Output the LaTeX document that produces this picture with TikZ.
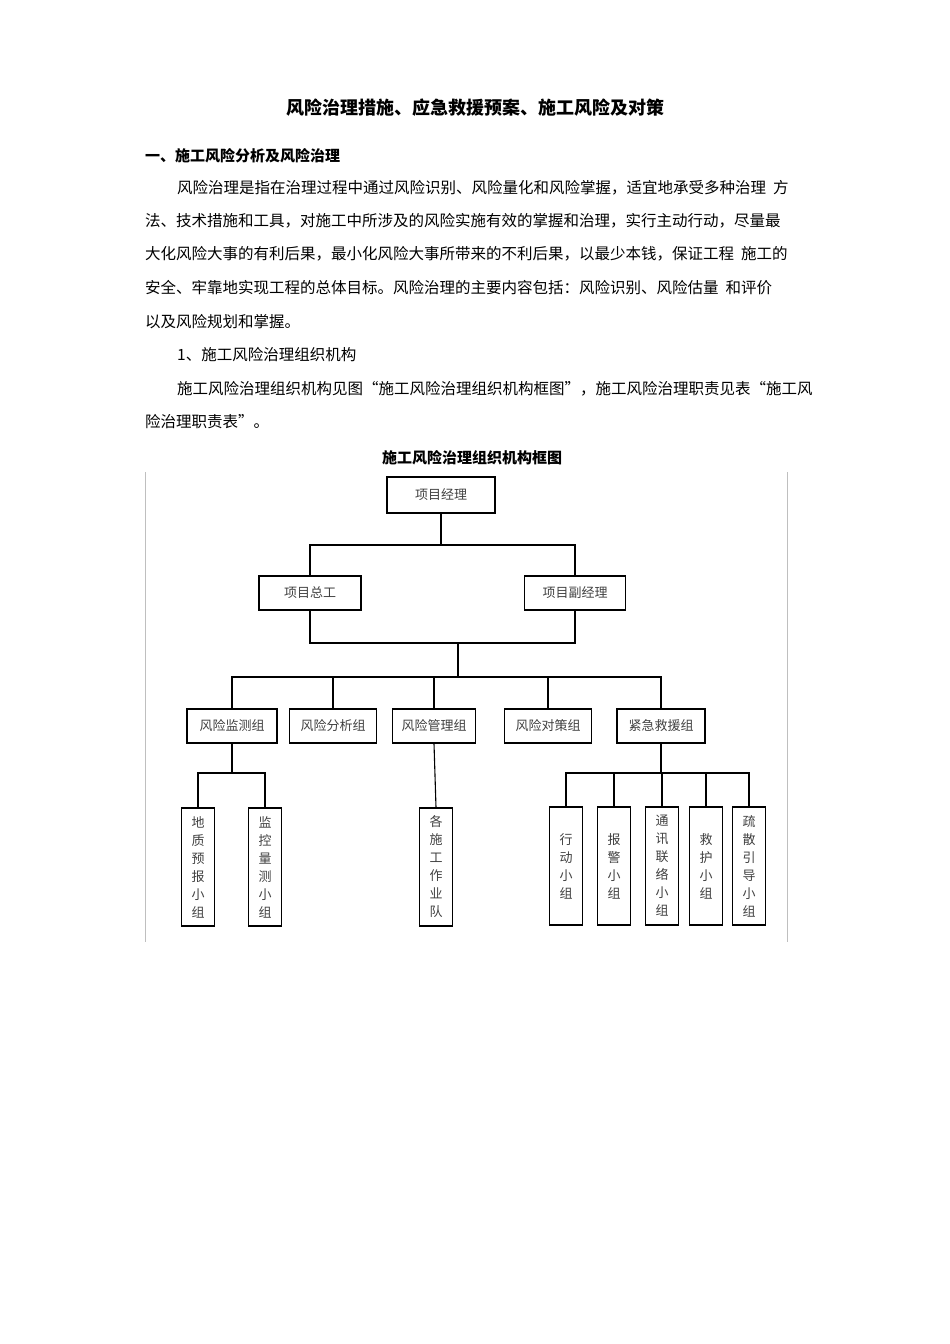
\documentclass[tikz,border=0pt]{standalone}
\usepackage{fontspec}
\setmainfont{Noto Sans CJK SC}
\usetikzlibrary{positioning}
\tikzset{
  txt/.style={anchor=west,inner sep=0pt,font=\fontsize{15.5}{18}\selectfont},
  hbox/.style={draw,line width=1.2pt,minimum height=34pt,inner sep=2pt,font=\fontsize{13}{15}\selectfont,text=black!75},
  vbox/.style={draw,line width=1.2pt,minimum width=33pt,minimum height=118pt,inner sep=2pt,align=center,font=\fontsize{13}{18}\selectfont,text=black!75},
  link/.style={line width=1.1pt}
}
\begin{document}
\begin{tikzpicture}[x=1pt,y=-1pt]
\useasboundingbox (0,0) rectangle (950,1344);
% text of the page
\node[inner sep=0pt,font=\fontsize{18}{20}\selectfont\bfseries] (title) at (475,108) {风险治理措施、应急救援预案、施工风险及对策};
\node[txt,font=\fontsize{15}{18}\selectfont\bfseries] (sec) at (145,156) {一、施工风险分析及风险治理};
\node[txt] (p1) at (177,188) {风险治理是指在治理过程中通过风险识别、风险量化和风险掌握，适宜地承受多种治理\ \ 方};
\node[txt] (p2) at (145,221) {法、技术措施和工具，对施工中所涉及的风险实施有效的掌握和治理，实行主动行动，尽量最};
\node[txt] (p3) at (145,254) {大化风险大事的有利后果，最小化风险大事所带来的不利后果，以最少本钱，保证工程\ \ 施工的};
\node[txt] (p4) at (145,288) {安全、牢靠地实现工程的总体目标。风险治理的主要内容包括：风险识别、风险估量\ \ 和评价};
\node[txt] (p5) at (145,322) {以及风险规划和掌握。};
\node[txt] (s1) at (177,355) {1、施工风险治理组织机构};
\node[txt] (p6) at (177,389) {施工风险治理组织机构见图“施工风险治理组织机构框图”，施工风险治理职责见表“施工风};
\node[txt] (p7) at (145,422) {险治理职责表”。};
\node[inner sep=0pt,font=\fontsize{15}{18}\selectfont\bfseries] (ctitle) at (472,458) {施工风险治理组织机构框图};
\draw[black!25] (145,472) -- (145,942) (787,472) -- (787,942);
% chart
\node[hbox,minimum width=108pt,minimum height=36pt] (pm) at (441,495) {项目经理};
\node[hbox,minimum width=102pt] (zg) at (310,593) {项目总工};
\node[hbox,minimum width=101pt] (fj) at (575,593) {项目副经理};
\node[hbox,minimum width=90pt] (jc) at (232,726) {风险监测组};
\node[hbox,minimum width=87pt] (fx) at (333,726) {风险分析组};
\node[hbox,minimum width=83pt] (gl) at (434,726) {风险管理组};
\node[hbox,minimum width=87pt] (dc) at (548,726) {风险对策组};
\node[hbox,minimum width=88pt] (jy) at (661,726) {紧急救援组};
\node[vbox] (dz) at (198,867) {地\\质\\预\\报\\小\\组};
\node[vbox] (jk) at (265,867) {监\\控\\量\\测\\小\\组};
\node[vbox] (zy) at (436,867) {各\\施\\工\\作\\业\\队};
\node[vbox] (xd) at (566,866) {行\\动\\小\\组};
\node[vbox] (bj) at (614,866) {报\\警\\小\\组};
\node[vbox] (tx) at (662,866) {通\\讯\\联\\络\\小\\组};
\node[vbox] (jh) at (706,866) {救\\护\\小\\组};
\node[vbox] (ss) at (749,866) {疏\\散\\引\\导\\小\\组};
\coordinate (b1) at (441,545);
\coordinate (b2) at (441,643);
\coordinate (b3) at (458,677);
\coordinate (b4) at (232,773);
\coordinate (b5) at (661,773);
\draw[link] (pm.south) -- (b1) (zg.north) |- (b1) -| (fj.north);
\draw[link] (zg.south) |- (b2) -| (fj.south);
\draw[link] (b3 |- b2) -- (b3);
\foreach \n in {jc,fx,gl,dc,jy} \draw[link] (b3) -| (\n.north);
\draw[link] (jc.south) -- (b4);
\foreach \n in {dz,jk} \draw[link] (b4) -| (\n.north);
\draw[link] (gl.south) -- (zy.north);
\draw[link] (jy.south) -- (b5);
\foreach \n in {xd,bj,tx,jh,ss} \draw[link] (b5) -| (\n.north);
\end{tikzpicture}
\end{document}
